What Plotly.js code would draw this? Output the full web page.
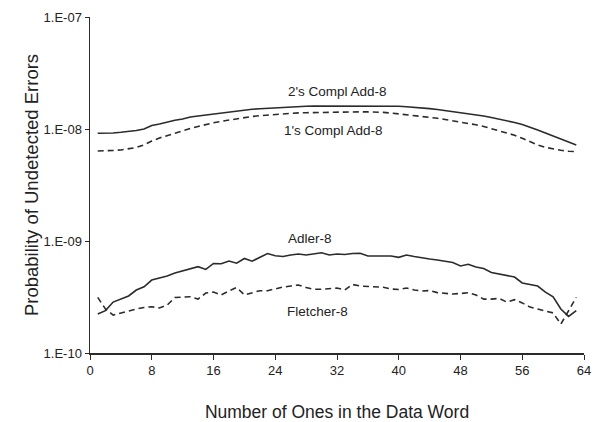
<!DOCTYPE html>
<html>
<head>
<meta charset="utf-8">
<script src="https://cdn.plot.ly/plotly-3.0.1.min.js"></script>
<style>html,body{margin:0;padding:0;background:#fff;}#chart{width:607px;height:422px;}</style>
</head>
<body>
<div id="chart"></div>
<script>
// Number of ones in the 64-bit data word
var onesCount = [];
for (var i = 1; i <= 63; i++) onesCount.push(i);

// Probability of undetected errors
var twosComplAdd8 = [
  0.915e-8, 0.915e-8, 0.921e-8, 0.934e-8, 0.950e-8, 0.970e-8, 1.000e-8, 1.075e-8, 1.108e-8, 1.155e-8,
  1.196e-8, 1.228e-8, 1.280e-8, 1.306e-8, 1.334e-8, 1.361e-8, 1.389e-8, 1.418e-8, 1.447e-8, 1.478e-8,
  1.499e-8, 1.518e-8, 1.534e-8, 1.550e-8, 1.566e-8, 1.578e-8, 1.587e-8, 1.594e-8, 1.604e-8, 1.604e-8,
  1.610e-8, 1.617e-8, 1.620e-8, 1.620e-8, 1.620e-8, 1.620e-8, 1.620e-8, 1.620e-8, 1.614e-8, 1.598e-8,
  1.581e-8, 1.566e-8, 1.546e-8, 1.521e-8, 1.493e-8, 1.462e-8, 1.433e-8, 1.404e-8, 1.375e-8, 1.342e-8,
  1.306e-8, 1.267e-8, 1.228e-8, 1.186e-8, 1.143e-8, 1.097e-8, 1.042e-8, 0.980e-8, 0.921e-8, 0.866e-8,
  0.814e-8, 0.766e-8, 0.720e-8
];
var onesComplAdd8 = [
  0.636e-8, 0.636e-8, 0.643e-8, 0.650e-8, 0.663e-8, 0.684e-8, 0.720e-8, 0.781e-8, 0.831e-8, 0.875e-8,
  0.921e-8, 0.970e-8, 1.010e-8, 1.053e-8, 1.097e-8, 1.136e-8, 1.171e-8, 1.203e-8, 1.241e-8, 1.272e-8,
  1.293e-8, 1.315e-8, 1.334e-8, 1.352e-8, 1.369e-8, 1.384e-8, 1.393e-8, 1.398e-8, 1.404e-8, 1.410e-8,
  1.416e-8, 1.418e-8, 1.421e-8, 1.424e-8, 1.424e-8, 1.421e-8, 1.418e-8, 1.407e-8, 1.389e-8, 1.367e-8,
  1.345e-8, 1.320e-8, 1.296e-8, 1.272e-8, 1.246e-8, 1.216e-8, 1.186e-8, 1.155e-8, 1.124e-8, 1.090e-8,
  1.053e-8, 1.010e-8, 0.970e-8, 0.925e-8, 0.880e-8, 0.826e-8, 0.769e-8, 0.720e-8, 0.686e-8, 0.663e-8,
  0.646e-8, 0.633e-8, 0.627e-8
];
var adler8 = [
  2.23e-10, 2.39e-10, 2.85e-10, 3.03e-10, 3.23e-10, 3.65e-10, 3.90e-10, 4.48e-10, 4.64e-10, 4.87e-10,
  5.18e-10, 5.40e-10, 5.68e-10, 5.90e-10, 5.58e-10, 6.30e-10, 6.26e-10, 6.63e-10, 6.33e-10, 6.98e-10,
  6.60e-10, 7.20e-10, 7.73e-10, 7.38e-10, 7.28e-10, 7.50e-10, 7.65e-10, 7.50e-10, 7.65e-10, 7.86e-10,
  7.50e-10, 7.65e-10, 7.58e-10, 7.73e-10, 7.76e-10, 7.35e-10, 7.35e-10, 7.35e-10, 7.35e-10, 7.15e-10,
  7.50e-10, 7.28e-10, 7.05e-10, 6.91e-10, 6.77e-10, 6.63e-10, 6.43e-10, 5.98e-10, 6.19e-10, 5.86e-10,
  5.68e-10, 5.24e-10, 5.07e-10, 4.92e-10, 4.77e-10, 4.22e-10, 4.09e-10, 3.96e-10, 3.50e-10, 3.18e-10,
  2.47e-10, 2.12e-10, 2.39e-10
];
var fletcher8 = [
  3.14e-10, 2.47e-10, 2.18e-10, 2.28e-10, 2.39e-10, 2.47e-10, 2.55e-10, 2.59e-10, 2.52e-10, 2.68e-10,
  3.13e-10, 3.16e-10, 3.18e-10, 3.03e-10, 3.43e-10, 3.50e-10, 3.30e-10, 3.58e-10, 3.84e-10, 3.30e-10,
  3.43e-10, 3.60e-10, 3.60e-10, 3.76e-10, 3.88e-10, 3.96e-10, 4.05e-10, 3.84e-10, 3.71e-10, 3.71e-10,
  3.73e-10, 3.80e-10, 3.65e-10, 4.09e-10, 3.96e-10, 3.92e-10, 3.88e-10, 3.86e-10, 3.73e-10, 3.69e-10,
  3.80e-10, 3.65e-10, 3.58e-10, 3.61e-10, 3.46e-10, 3.40e-10, 3.36e-10, 3.40e-10, 3.45e-10, 3.30e-10,
  3.03e-10, 3.03e-10, 3.07e-10, 2.85e-10, 2.99e-10, 2.80e-10, 2.57e-10, 2.47e-10, 2.39e-10, 2.28e-10,
  1.81e-10, 2.42e-10, 3.14e-10
];

var seriesNames = ["2's Compl Add-8", "1's Compl Add-8", "Adler-8", "Fletcher-8"];
var xTickVals = [0, 8, 16, 24, 32, 40, 48, 56, 64];
var yTickVals = [1e-10, 1e-9, 1e-8, 1e-7];
var yTickText = ["1.E-10", "1.E-09", "1.E-08", "1.E-07"];

var lineColor = '#2b2b2b';
var textColor = '#222';
var font = 'Liberation Sans, Arial, sans-serif';

function tr(y, name, dash) {
  return {x: onesCount, y: y, name: name, type: 'scatter', mode: 'lines',
          line: {color: lineColor, width: 1.6, dash: dash}, hoverinfo: 'skip'};
}
var data = [
  tr(twosComplAdd8, seriesNames[0], 'solid'),
  tr(onesComplAdd8, seriesNames[1], '6px,4px'),
  tr(adler8, seriesNames[2], 'solid'),
  tr(fletcher8, seriesNames[3], '6px,4px')
];

function lab(text, x, y) {
  return {text: text, xref: 'paper', yref: 'paper', x: x, y: y, xanchor: 'center', yanchor: 'middle',
          showarrow: false, font: {family: font, size: 13.5, color: textColor}};
}

var layout = {
  width: 607, height: 422, autosize: false,
  margin: {l: 90, r: 23, t: 17, b: 69},
  paper_bgcolor: '#fff', plot_bgcolor: '#fff',
  showlegend: false,
  font: {family: font, color: textColor},
  xaxis: {
    range: [0, 64], tickvals: xTickVals, ticks: 'outside', ticklen: 5, tickcolor: lineColor,
    showline: true, linecolor: lineColor, linewidth: 1.5, showgrid: false, zeroline: false,
    tickfont: {family: font, size: 13, color: textColor},
    title: {text: 'Number of Ones in the Data Word', font: {family: font, size: 17.5, color: textColor}, standoff: 29}
  },
  yaxis: {
    type: 'log', range: [-10, -7], tickvals: yTickVals, ticktext: yTickText,
    ticks: 'outside', ticklen: 4, tickcolor: lineColor,
    showline: true, linecolor: lineColor, linewidth: 1.5, showgrid: false, zeroline: false,
    tickfont: {family: font, size: 13, color: textColor},
    title: {text: 'Probability of Undetected Errors', font: {family: font, size: 18.5, color: textColor}, standoff: 0}
  },
  annotations: [
    lab(seriesNames[0], 0.502, 0.777),
    lab(seriesNames[1], 0.492, 0.661),
    lab(seriesNames[2], 0.445, 0.342),
    lab(seriesNames[3], 0.46, 0.125)
  ]
};

Plotly.newPlot('chart', data, layout, {staticPlot: true, displayModeBar: false});
</script>
</body>
</html>
